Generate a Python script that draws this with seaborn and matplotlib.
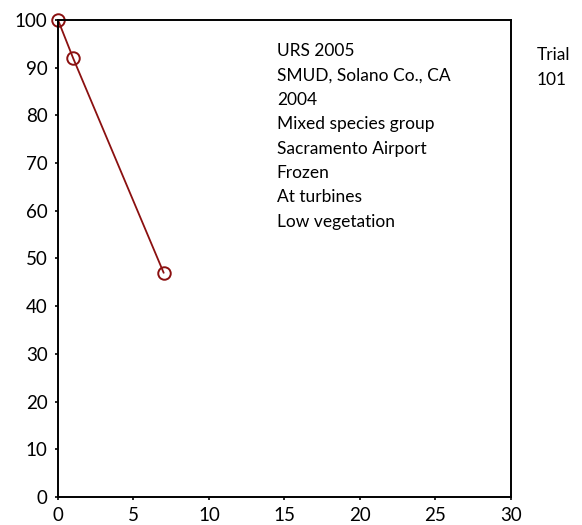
import matplotlib
matplotlib.use("Agg")
import matplotlib.pyplot as plt
import seaborn as sns
import pandas as pd

days = [0, 1, 7]
persistence = [100, 92, 47]
info_lines = ["URS 2005", "SMUD, Solano Co., CA", "2004", "Mixed species group",
              "Sacramento Airport", "Frozen", "At turbines", "Low vegetation"]
trial_label = "Trial\n101"
x_ticks = [0, 5, 10, 15, 20, 25, 30]
y_ticks = [0, 10, 20, 30, 40, 50, 60, 70, 80, 90, 100]

sns.set_style("white")
plt.rcParams['font.family'] = ['Lato', 'DejaVu Sans']
plt.rcParams['text.color'] = 'black'

fig = plt.figure(figsize=(5.82, 5.25), dpi=100)
ax = fig.add_axes([0.0997, 0.0533, 0.778, 0.9087])

df = pd.DataFrame({"day": days, "pct": persistence})
sns.lineplot(data=df, x="day", y="pct", ax=ax, color="#8B1010", linewidth=1.3,
             marker="o", markersize=9, markerfacecolor="none",
             markeredgecolor="#8B1010", markeredgewidth=1.4, clip_on=False)

ax.set_xlim(0, 30)
ax.set_ylim(0, 100)
ax.set_xticks(x_ticks)
ax.set_yticks(y_ticks)
ax.set_xlabel("")
ax.set_ylabel("")
for s in ax.spines.values():
    s.set_color("black")
    s.set_linewidth(1.4)
ax.tick_params(axis="both", direction="out", length=2.5, width=1.2, colors="black",
               labelsize=13.5, bottom=True, left=True)
ax.tick_params(axis="y", pad=5)
ax.tick_params(axis="x", pad=5)

ax.text(0.483, 0.951, "\n".join(info_lines), transform=ax.transAxes,
        fontsize=12.5, va="top", ha="left", linespacing=1.64)
fig.text(0.922, 0.911, trial_label, fontsize=12.5, va="top", ha="left",
         linespacing=1.7)

fig.savefig("out.png", dpi=100)
